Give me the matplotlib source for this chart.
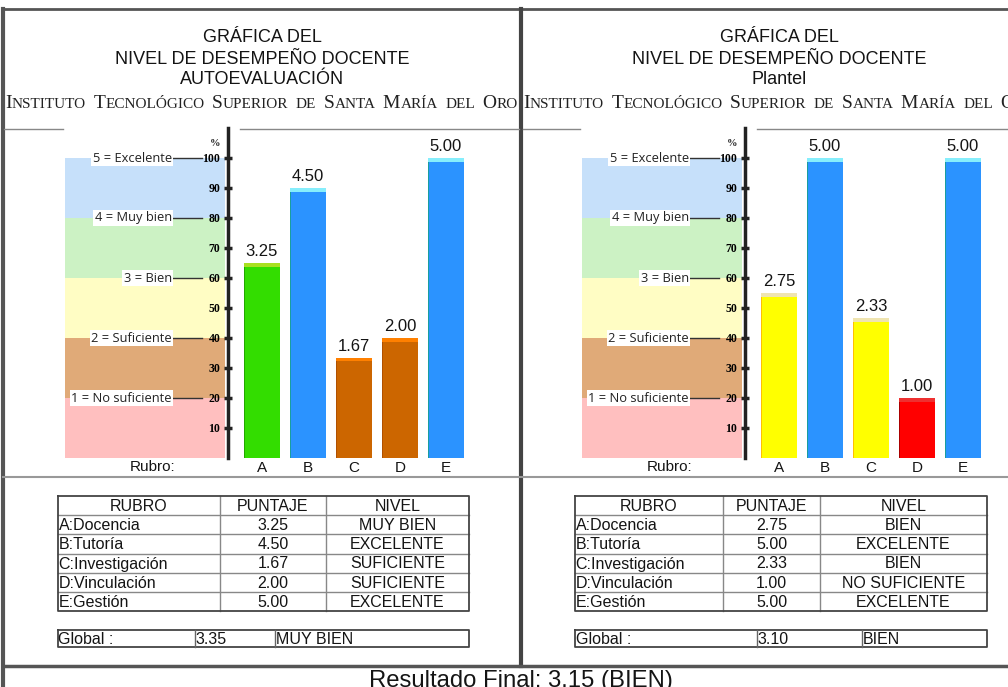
#!/usr/bin/env python3
# -*- coding: utf-8 -*-
"""
plot.py

Grafica del nivel de desempeno docente (autoevaluacion y plantel)
"""

import matplotlib

matplotlib.use("Agg")
import matplotlib.pyplot as plt

W, H = 1008, 687
DPI = 100

# Data
letters = ["A", "B", "C", "D", "E"]
rubros = ["A:Docencia", "B:Tutoría", "C:Investigación", "D:Vinculación", "E:Gestión"]
auto_scores = [3.25, 4.50, 1.67, 2.00, 5.00]
auto_levels = ["MUY BIEN", "EXCELENTE", "SUFICIENTE", "SUFICIENTE", "EXCELENTE"]
plantel_scores = [2.75, 5.00, 2.33, 1.00, 5.00]
plantel_levels = ["BIEN", "EXCELENTE", "BIEN", "NO SUFICIENTE", "EXCELENTE"]
auto_global = (3.35, "MUY BIEN")
plantel_global = (3.10, "BIEN")
final_result = (3.15, "BIEN")

band_limits = [0, 20, 40, 60, 80, 100]
band_labels = ["1 = No suficiente", "2 = Suficiente", "3 = Bien",
               "4 = Muy bien", "5 = Excelente"]
band_colors = ["#ffbfbf", "#e0aa78", "#fffdc4", "#ccf2c4", "#c6e0fa"]
y_ticks = [10, 20, 30, 40, 50, 60, 70, 80, 90, 100]

# face, top cap, left edge
level_colors = {
    "EXCELENTE": ("#2b93ff", "#86eefc", "#1a9e9e"),
    "MUY BIEN": ("#33dd00", "#a8e020", "#22a800"),
    "BIEN": ("#ffff00", "#efe4b0", "#ffc000"),
    "SUFICIENTE": ("#cc6600", "#ff8000", "#b05000"),
    "NO SUFICIENTE": ("#ff0000", "#ee3030", "#aa0000"),
}

SANS = "Liberation Sans"
SERIF = "Liberation Serif"
FRAME = "#555555"
TXT = "#141414"


def px_axes(fig, x0, y0, x1, y1):
    """Adds axes from a pixel box (origin top left)."""
    return fig.add_axes([x0 / W, 1 - y1 / H, (x1 - x0) / W, (y1 - y0) / H])


def draw_small_caps(fig, ax, x, y, text, big=14, small=11, space=7.5):
    """Draws text in emulated small caps, starting at pixel x on baseline y."""
    renderer = fig.canvas.get_renderer()
    runs = []
    for ch in text:
        if ch == " ":
            runs.append([" ", None])
            continue
        size = big if ch.isupper() else small
        if runs and runs[-1][1] == size:
            runs[-1][0] += ch.upper()
        else:
            runs.append([ch.upper(), size])
    cur = x
    for chunk, size in runs:
        if size is None:
            cur += space
            continue
        t = ax.text(cur, y, chunk, fontsize=size, family=SERIF, color="#222222",
                    ha="left", va="baseline")
        cur += t.get_window_extent(renderer).width


def draw_scale(fig, x_off):
    """Draws the coloured level bands with their labels."""
    ax = px_axes(fig, 65 + x_off, 128, 228 + x_off, 458)
    ax.set_xlim(0, 1)
    ax.set_ylim(0, 110)
    ax.axis("off")
    ax.set_zorder(1)
    for i, c in enumerate(band_colors):
        ax.axhspan(band_limits[i], band_limits[i + 1], xmin=0, xmax=160 / 163,
                   color=c, lw=0)
    for lab, v in zip(band_labels, band_limits[1:]):
        ax.plot([0.656, 0.840], [v, v], color="#333333", lw=1)
        ax.text(0.656, v, lab, ha="right", va="center", fontsize=9.3,
                family="Open Sans", color="#222222",
                bbox=dict(facecolor="white", edgecolor="none", pad=1.0))


def draw_bars(fig, x_off, scores, levels):
    """Draws the bar chart of scores (percent of 5)."""
    ax = px_axes(fig, 228 + x_off, 128, 520 + x_off, 458)
    ax.set_zorder(2)
    ax.patch.set_visible(False)
    ax.set_ylim(0, 110)
    ax.set_xlim(-0.739, 5.609)

    for i, (s, lev) in enumerate(zip(scores, levels)):
        face, cap, edge = level_colors[lev]
        h = s * 20
        ax.bar(i, h, width=0.8, color=face, lw=0)
        ax.bar(i, 1.2, bottom=h - 1.2, width=0.8, color=cap, lw=0)
        ax.bar(i - 0.385, h - 1.2, width=0.03, color=edge, lw=0)
        ax.text(i, h + 1.3, "{:.2f}".format(s), ha="center", va="bottom",
                fontsize=12, family=SANS, color=TXT)

    for side in ["top", "right", "bottom"]:
        ax.spines[side].set_visible(False)
    ax.spines["left"].set_linewidth(2.5)
    ax.spines["left"].set_color("#222222")

    ax.set_yticks(y_ticks)
    ax.set_yticklabels([str(v) for v in y_ticks], fontsize=8.5, family=SERIF,
                       fontweight="bold")
    ax.tick_params(axis="y", direction="inout", length=6, width=2.5,
                   color="#222222", pad=2.5)
    ax.set_xticks(range(len(letters)))
    ax.set_xticklabels(letters, fontsize=11, family=SANS, color=TXT)
    ax.tick_params(axis="x", length=0, pad=2.5)


def draw_table(ax, x_cols, scores, levels, g_cols, glob):
    """Draws the score table and the global box in pixel coordinates."""
    rh = 19.2
    y0 = 496
    fs = 11.5
    rows = [["RUBRO", "PUNTAJE", "NIVEL"]]
    rows += [[r, "{:.2f}".format(s), l] for r, s, l in zip(rubros, scores, levels)]
    y_lines = [y0 + rh * i for i in range(len(rows) + 1)]

    for y in y_lines[1:-1]:
        ax.plot([x_cols[0], x_cols[-1]], [y, y], color="#888888", lw=1)
    for x in x_cols[1:-1]:
        ax.plot([x, x], [y_lines[0], y_lines[-1]], color="#888888", lw=1)
    ax.plot([x_cols[0], x_cols[-1], x_cols[-1], x_cols[0], x_cols[0]],
            [y_lines[0], y_lines[0], y_lines[-1], y_lines[-1], y_lines[0]],
            color="#444444", lw=1.3)

    for j, row in enumerate(rows):
        yc = y_lines[j] + rh / 2 + 0.8
        for k, cell in enumerate(row):
            if k == 0 and j > 0:
                ax.text(x_cols[0] + 0.5, yc, cell, ha="left", va="center",
                        fontsize=fs, family=SANS, color=TXT)
            else:
                ax.text((x_cols[k] + x_cols[k + 1]) / 2, yc, cell, ha="center",
                        va="center", fontsize=fs, family=SANS, color=TXT)

    # Global box
    gy0, gy1 = 630, 647
    ax.plot([g_cols[0], g_cols[-1], g_cols[-1], g_cols[0], g_cols[0]],
            [gy0, gy0, gy1, gy1, gy0], color="#444444", lw=1.3)
    for x in g_cols[1:-1]:
        ax.plot([x, x], [gy0, gy1], color="#666666", lw=1)
    cells = ["Global :", "{:.2f}".format(glob[0]), glob[1]]
    for k, cell in enumerate(cells):
        ax.text(g_cols[k] + 0.5, (gy0 + gy1) / 2 + 0.8, cell, ha="left",
                va="center", fontsize=fs, family=SANS, color=TXT)


def main():
    fig = plt.figure(figsize=(W / DPI, H / DPI), dpi=DPI)
    base = fig.add_axes([0, 0, 1, 1])
    base.set_xlim(0, W)
    base.set_ylim(H, 0)
    base.axis("off")

    # Frame
    base.plot([3, W], [9, 9], color=FRAME, lw=2)
    base.plot([3, 3], [9, H], color=FRAME, lw=3)
    base.plot([521, 521], [9, 666], color="#444444", lw=3)
    base.plot([3, W], [477, 477], color="#999999", lw=1.5)
    base.plot([3, W], [666, 666], color=FRAME, lw=2.5)

    panels = [
        (0, "AUTOEVALUACIÓN", auto_scores, auto_levels,
         [58, 220, 326, 469], [58, 195, 275, 469], auto_global),
        (517, "Plantel", plantel_scores, plantel_levels,
         [575, 723, 820, 987], [575, 757, 862, 987], plantel_global),
    ]
    for x_off, subtitle, scores, levels, cols, gcols, glob in panels:
        cx = 262 + x_off
        base.text(cx, 38, "GRÁFICA DEL", ha="center", va="center",
                  fontsize=13, family=SANS, color=TXT)
        base.text(cx, 59, "NIVEL DE DESEMPEÑO DOCENTE", ha="center",
                  va="center", fontsize=13, family=SANS, color=TXT)
        base.text(cx, 79, subtitle, ha="center", va="center", fontsize=13,
                  family=SANS, color=TXT)
        draw_small_caps(fig, base, 5 + x_off + (1 if x_off else 0), 108,
                        "Instituto Tecnológico Superior de Santa María del Oro")

        # Broken line above the chart
        left = 4 if x_off == 0 else 523
        right = 519 if x_off == 0 else W
        base.plot([left, 63 + x_off], [129, 129], color="#888888", lw=1)
        base.plot([240 + x_off, right], [129, 129], color="#888888", lw=1)
        base.text(215 + x_off, 143, "%", ha="center", va="center", fontsize=7.5,
                  family=SERIF, fontweight="bold", color="#222222")
        base.text(153 + x_off, 467, "Rubro:", ha="center", va="center",
                  fontsize=11, family=SANS, color=TXT)

        draw_scale(fig, x_off)
        draw_bars(fig, x_off, scores, levels)
        draw_table(base, cols, scores, levels, gcols, glob)

    base.text(521, 670, "Resultado Final: {:.2f} ({})".format(*final_result),
              ha="center", va="top", fontsize=17.2, family=SANS, color=TXT)

    fig.savefig("out.png", dpi=DPI)


if __name__ == "__main__":
    main()
